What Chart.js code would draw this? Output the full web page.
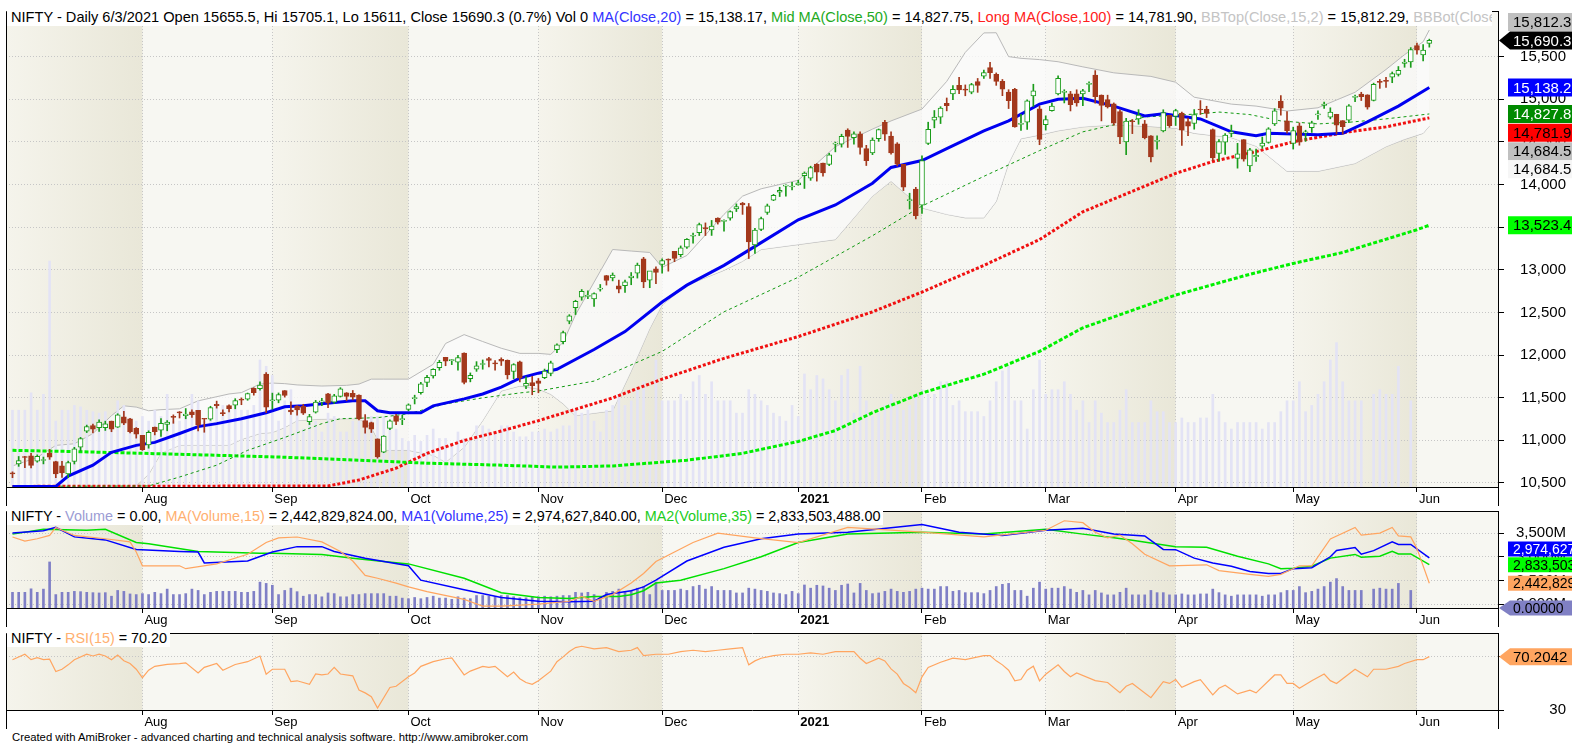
<!DOCTYPE html>
<html>
<head>
<meta charset="utf-8">
<title>NIFTY Daily</title>
<script src="https://cdn.jsdelivr.net/npm/chart.js@4.4.1/dist/chart.umd.min.js"></script>
<style>
  body { margin: 0; width: 1572px; height: 747px; background: #fff; position: relative; overflow: hidden;
         font-family: Arial, "Liberation Sans", sans-serif; }
  canvas { position: absolute; left: 0; }
  .title { position: absolute; left: 7px; background: #fff; font-size: 14.4px; line-height: 17px;
           white-space: nowrap; overflow: hidden; padding: 0 3px 0 4px; color: #000; }
  #footer { position: absolute; left: 12px; top: 731px; font-size: 11.3px; color: #000; }
</style>
</head>
<body>
<canvas id="price-chart" width="1572" height="506" style="top:0"></canvas>
<canvas id="volume-chart" width="1572" height="127" style="top:500px"></canvas>
<canvas id="rsi-chart" width="1572" height="107" style="top:622px"></canvas>
<div class="title" id="price-title" style="top:8px;max-width:1478px;font-size:14.6px;line-height:18px"></div>
<div class="title" id="volume-title" style="top:508px"></div>
<div class="title" id="rsi-title" style="top:630px"></div>
<div id="footer">Created with AmiBroker - advanced charting and technical analysis software. http://www.amibroker.com</div>
<script>
const FONT = 'Arial, "Liberation Sans", sans-serif';

// month starts (bar index) and their labels
const monthIdx = [21, 42, 64, 85, 105, 127, 147, 167, 188, 207, 227];
const monthLbl = ['Aug', 'Sep', 'Oct', 'Nov', 'Dec', '2021', 'Feb', 'Mar', 'Apr', 'May', 'Jun'];
const priceTicks = [10500, 11000, 11500, 12000, 12500, 13000, 13500, 14000, 14500, 15000, 15500];
const volTicks = [2000, 2500, 3000, 3500];
const rsiTicks = [30, 70];

// daily bars 3 Jul 2020 .. 3 Jun 2021
const open = [10614,10723,10802,10818,10755,10764,10851,10750,10701,10607,10752,10919,11109,11174,11150,11149,11225,11154,11276,11252,11140,
  11058,10946,11156,11120,11186,11271,11323,11289,11334,11353,11249,11248,11423,11326,11408,11412,11475,11484,11609,11606,11777,
  11464,11471,11583,11355,11400,11400,11220,11330,11450,11546,11449,11516,11558,11550,11531,11233,11207,11018,10860,11141,11288,11244,
  11364,11488,11558,11680,11755,11852,11973,11935,11917,12024,11722,11835,11890,11958,11910,11950,11937,11807,11922,11634,11678,
  11697,11734,11784,12062,12157,12399,12556,12680,12689,12659,12773,12932,12904,12812,12814,12906,12960,13130,12878,13012,
  13062,13122,13216,13177,13265,13393,13435,13494,13469,13607,13568,13606,13713,13783,13741,13292,13473,13672,13816,13910,13981,13971,
  13996,14104,14076,14240,14253,14235,14474,14473,14639,14550,14595,14422,14371,14538,14730,14569,14477,14237,13811,13946,
  13758,14482,14754,14789,14952,15064,15164,15119,15082,15207,15270,15371,15293,15210,15084,15117,14706,14730,15038,14888,
  14702,14865,15064,15081,15065,15064,15062,15174,15283,15049,14996,14946,14855,14500,14737,14768,14712,14570,14506,14628,14811,
  14798,14837,14737,14716,14875,14882,14644,14364,14497,14599,14306,14526,14219,14326,14449,14493,14710,14979,14747,
  14481,14688,14604,14668,14816,14928,14789,14823,14749,14756,15023,15060,15052,14987,15211,15211,15258,15291,15421,15437,
  15629,15521,15655.5];
const high = [10631,10811,10813,10848,10830,10804,10894,10755,10755,10756,10918,11035,11179,11190,11240,11225,11226,11312,11341,11257,11150,
  11058,11112,11156,11256,11232,11299,11338,11373,11359,11353,11256,11400,11460,11358,11418,11489,11498,11555,11617,11686,11794,
  11554,11556,11584,11452,11408,11423,11305,11469,11493,11552,11540,11618,11560,11585,11535,11302,11214,11018,11055,11240,11305,11295,
  11428,11530,11680,11764,11840,11939,11974,11948,11997,12025,11791,11923,11943,11975,11935,11968,11943,11899,11929,11744,11750,
  11726,11836,11929,12131,12280,12474,12643,12769,12752,12730,12828,12934,12963,12879,12879,12968,13079,13146,12943,13035,
  13129,13128,13216,13280,13366,13432,13548,13550,13579,13610,13587,13692,13773,13790,13778,13487,13619,13771,13885,13968,13997,14025,
  14050,14148,14215,14245,14253,14367,14498,14590,14654,14618,14617,14460,14547,14652,14754,14619,14491,14237,13898,13967,
  14337,14731,14868,14913,15015,15159,15257,15168,15187,15244,15341,15432,15309,15232,15112,15128,14822,14993,15176,14920,
  14806,14955,15274,15112,15092,15111,15116,15205,15336,15051,15048,14957,14875,14775,14763,14878,14752,14575,14572,14877,14813,
  14883,14849,14779,14879,14984,14918,14652,14528,14597,14697,14483,14527,14424,14415,14557,14667,14890,15044,14855,
  14673,14723,14637,14743,14864,14967,14900,14824,14749,14938,15049,15082,15053,15189,15232,15256,15320,15384,15469,15606,
  15660,15641,15705.1];
const low = [10562,10695,10681,10676,10744,10724,10777,10562,10564,10562,10723,10875,11091,11086,11104,11116,11101,11151,11185,11086,11026,
  10882,10908,11064,11046,11112,11200,11262,11253,11269,11112,11095,11235,11378,11289,11333,11370,11418,11470,11530,11589,11326,
  11366,11440,11507,11304,11295,11303,11185,11320,11406,11382,11433,11508,11465,11475,11240,11083,11092,10791,10855,11125,11185,11184,
  11347,11427,11541,11630,11730,11822,11875,11888,11822,11662,11686,11809,11834,11861,11822,11878,11720,11723,11685,11606,11535,
  11558,11723,11757,12028,12131,12367,12475,12643,12662,12570,12750,12821,12870,12730,12734,12825,12903,12790,12790,12836,
  12962,12984,13095,13152,13250,13311,13402,13402,13403,13536,13452,13582,13683,13650,13132,13192,13460,13650,13811,13859,13864,13937,
  13992,13954,14049,14040,14097,14221,14383,14439,14435,14472,14357,14223,14350,14506,14518,14357,14218,13929,13713,13597,
  13662,14469,14665,14715,14864,14995,15065,15041,15064,15081,15243,15243,15163,15042,14891,14672,14636,14646,14915,14467,
  14638,14860,15051,14957,14863,14919,14924,15089,14954,14746,14897,14696,14478,14350,14597,14707,14535,14264,14414,14617,14670,
  14692,14459,14573,14649,14821,14785,14283,14274,14353,14560,14192,14274,14152,14270,14424,14484,14692,14814,14601,
  14416,14461,14506,14611,14765,14892,14771,14592,14591,14724,14973,14985,14884,14980,15128,15140,15194,15272,15375,15374,
  15528,15451,15611];
const close = [10607,10763,10799,10706,10813,10768,10802,10607,10618,10740,10902,11022,11162,11132,11215,11194,11132,11300,11202,11102,11073,
  10892,11095,11102,11200,11214,11270,11322,11308,11300,11178,11247,11385,11408,11312,11372,11466,11472,11549,11559,11647,11388,
  11470,11536,11527,11333,11356,11318,11278,11450,11464,11440,11522,11605,11516,11505,11251,11153,11132,10806,11050,11228,11222,11248,
  11417,11503,11662,11738,11834,11914,11930,11935,11972,11680,11762,11873,11897,11938,11896,11930,11768,11889,11730,11670,11642,
  11669,11813,11909,12120,12264,12461,12631,12749,12691,12720,12780,12875,12938,12772,12860,12927,13056,12858,12987,12969,
  13109,13114,13134,13258,13356,13393,13529,13479,13514,13558,13568,13682,13741,13761,13328,13466,13602,13749,13873,13932,13982,13982,
  14019,14133,14199,14146,14137,14347,14485,14564,14565,14595,14434,14281,14521,14645,14590,14372,14239,13968,13818,13635,
  14281,14647,14790,14896,14924,15116,15110,15107,15173,15163,15314,15313,15209,15119,14982,14676,14708,14982,15098,14529,
  14762,14920,15246,15081,14938,14956,15099,15175,15031,14929,14911,14721,14558,14745,14736,14815,14549,14325,14507,14845,14691,
  14867,14638,14684,14819,14874,14835,14311,14505,14581,14617,14359,14297,14406,14341,14485,14653,14865,14895,14631,
  14634,14497,14618,14725,14824,14943,14851,14697,14678,14924,15030,15030,14906,15176,15197,15209,15301,15338,15436,15583,
  15575,15576,15690.3];
// volume in millions of shares
const volume = [2760,2760,2760,3175,2760,3140,6325,2500,2760,2760,2875,2840,2760,2725,2690,2725,2310,2985,2875,2575,2500,
  2610,2500,2760,2610,3140,2500,2500,2610,3140,2985,2500,2760,2875,2875,2875,2875,2760,2760,2875,3960,3810,
  3590,2500,2985,3250,2840,2310,2500,2500,2240,2690,2610,2240,2240,2500,2500,2610,2610,2610,2610,2310,2310,2085,
  2015,2160,2015,2160,2310,2085,2085,1940,2240,2085,2015,2388,2388,2310,2240,2388,2388,2240,2125,2125,2240,
  2240,2310,2240,2310,2388,2388,2760,2690,2760,2500,2240,2760,2875,3140,2875,2985,3250,3440,2500,3960,
  2985,2985,2985,3140,2985,3440,3590,3140,3440,2985,2985,2985,2690,2690,3250,3140,2985,2875,2690,2610,2500,2875,
  2610,3625,3250,3590,3510,3250,2985,3590,3740,2690,3810,2985,2610,2690,2875,3140,2875,2760,2875,3140,
  3250,3140,3140,3440,3440,2875,2985,2725,2725,2725,2610,2985,3440,3700,3810,2985,2985,2310,3250,3960,
  3140,3250,3250,3440,3140,2760,2985,2465,2985,2690,2465,2465,2760,3250,2465,2465,2465,2985,2725,2725,2465,
  2465,2575,2465,2465,2575,2575,3140,2725,2465,2310,2465,2465,2465,2465,2310,2465,2465,2725,2985,
  2985,3440,2725,2875,3140,3440,3960,4375,3440,2985,2985,2985,0,3140,3250,3140,3140,3810,0,2985,
  0,0,0];

// indicator lines: [bar index, value]
const ma20Pts = [[0,10250],[7,10440],[9,10581],[13,10709],[16,10860],[20,10941],[23,10976],[27,11080],[30,11161],[33,11196],
  [37,11254],[41,11324],[44,11393],[47,11405],[50,11428],[55,11463],[57,11463],[59,11347],[61,11324],[66,11324],[68,11405],
  [73,11486],[76,11544],[79,11625],[82,11730],[85,11788],[88,11834],[94,12066],[99,12275],[105,12623],[109,12820],[115,13052],
  [121,13319],[127,13586],[133,13760],[139,14015],[142,14200],[147,14282],[151,14421],[157,14630],[161,14746],[166,14943],
  [169,15000],[173,15012],[178,14920],[183,14804],[186,14830],[192,14769],[197,14618],[201,14572],[203,14600],[211,14583],
  [215,14600],[219,14734],[224,14920],[229,15138.17]];
const ma50Pts = [[0,9950],[22,10465],[27,10570],[33,10709],[38,10883],[44,11034],[50,11196],[53,11254],[59,11266],[64,11312],
  [70,11428],[76,11498],[82,11556],[85,11579],[94,11695],[105,12043],[115,12507],[127,12913],[139,13400],[147,13748],
  [157,14096],[166,14398],[173,14618],[178,14700],[183,14792],[192,14830],[195,14850],[200,14820],[205,14746],[211,14711],
  [216,14730],[222,14770],[229,14827.75]];
const ma100Pts = [[0,9400],[51,10465],[56,10535],[62,10674],[67,10848],[73,10999],[79,11110],[85,11231],[97,11498],[105,11718],
  [115,11962],[127,12217],[139,12507],[147,12739],[157,13052],[166,13354],[173,13680],[188,14131],[194,14270],[201,14386],
  [207,14502],[216,14618],[222,14676],[229,14781.9]];
const ma200Pts = [[0,10883],[9,10870],[21,10848],[33,10825],[44,10802],[56,10767],[67,10732],[79,10709],[88,10686],[97,10700],
  [109,10767],[118,10848],[127,10987],[133,11115],[139,11324],[147,11556],[157,11776],[166,12043],[173,12320],[188,12704],
  [200,12948],[207,13075],[215,13203],[227,13470],[229,13523.4]];
const bbIdx = [0,4,7,10,13,16,18,20,22,24,27,30,35,37,40,42,44,46,50,54,56,58,60,64,68,70,73,76,79,82,85,87,89,91,97,100,103,105,
  109,115,118,121,127,133,139,142,147,151,154,157,159,161,163,166,169,173,178,184,188,191,197,201,206,211,217,222,225,228,229];
const bbTop = [10700,10800,10941,10960,11080,11290,11405,11390,11347,11360,11370,11463,11544,11560,11660,11672,11665,11650,11637,
  11645,11660,11718,11718,11718,11892,12136,12240,12159,12080,12020,12020,12008,12150,12472,13238,13220,13203,13029,13168,13650,
  13864,13950,14050,14444,14650,14746,14885,15210,15550,15778,15780,15500,15480,15465,15440,15380,15310,15268,15200,15024,14943,
  14920,14862,14900,15082,15349,15523,15674,15812.29];
const bbBot = [10150,10200,10250,10300,10350,10400,10430,10470,10600,10850,10941,10941,10941,11010,11080,11092,11150,11231,11250,
  11254,11254,11150,10883,10883,10825,10744,10918,11231,11579,11637,11602,11540,11428,11289,11347,11811,12310,12588,12820,12994,
  13100,13238,13296,13354,13864,14038,13725,13650,13609,13609,13800,14247,14537,14580,14630,14676,14700,14680,14660,14600,14550,
  14450,14155,14155,14247,14444,14530,14600,14684.5];

// volume moving averages (millions)
const vma15Pts = [[0,3417],[2,3330],[4,3380],[6,3450],[7,3620],[10,3450],[15,3380],[19,3315],[20,3100],[21,2810],[27,2810],
  [28,2749],[33,2850],[38,3053],[41,3300],[43,3400],[46,3417],[50,3315],[53,3113],[55,2911],[57,2607],[59,2547],[62,2445],
  [64,2364],[67,2263],[73,2101],[76,1960],[79,1960],[85,2000],[90,2061],[92,2162],[94,2061],[97,2202],[100,2445],[102,2648],
  [104,2900],[110,3300],[114,3500],[120,3400],[127,3300],[135,3620],[147,3520],[157,3420],[167,3560],[170,3760],[173,3720],
  [175,3518],[177,3400],[179,3457],[181,3275],[183,3053],[187,2810],[193,2830],[195,2708],[200,2628],[203,2587],[205,2628],
  [208,2810],[210,2810],[213,3377],[217,3620],[218,3457],[221,3500],[223,3620],[224,3440],[226,3420],[227,3174],[229,2442.83]];
const vma25Pts = [[0,3500],[5,3550],[7,3620],[10,3420],[15,3356],[20,3154],[27,3113],[30,3100],[31,2870],[38,2911],[42,3100],
  [46,3214],[50,3214],[52,3113],[57,2970],[64,2810],[66,2506],[73,2304],[79,2142],[85,2061],[90,2050],[94,2061],[96,2202],
  [100,2283],[102,2364],[104,2506],[109,2911],[115,3200],[121,3380],[127,3480],[135,3520],[147,3680],[153,3520],[160,3450],
  [167,3560],[173,3600],[178,3480],[183,3440],[186,3154],[188,3150],[191,2972],[194,2870],[197,2800],[200,2688],[203,2648],
  [205,2648],[207,2749],[210,2770],[213,3000],[214,3134],[217,3194],[218,3053],[220,3130],[223,3316],[224,3260],[226,3260],
  [229,2974.63]];
const vma35Pts = [[0,3478],[5,3580],[12,3560],[15,3580],[20,3300],[22,3275],[30,3113],[40,3073],[42,3073],[50,3050],[55,2970],
  [60,2900],[64,2850],[73,2547],[79,2243],[85,2142],[90,2120],[94,2162],[98,2162],[100,2200],[102,2283],[104,2445],[108,2506],
  [115,2750],[121,3000],[127,3300],[135,3480],[147,3520],[157,3480],[167,3580],[173,3478],[178,3400],[181,3350],[188,3214],
  [193,3200],[198,3012],[203,2850],[205,2749],[207,2760],[210,2800],[213,2972],[217,3050],[218,2990],[221,3012],[223,3113],
  [224,3060],[226,3060],[229,2833.5]];

const rsiPts = [[0,67.9],[2,72],[3,67.9],[4,69.5],[5,67.9],[6,68.3],[7,59],[8,60.7],[9,64],[10,67.9],[12,72],[13,70.7],[14,72.1],
  [15,70.7],[16,67.9],[17,71.4],[18,67.1],[19,65],[20,60.7],[21,54.3],[22,60],[23,62.9],[25,64.3],[27,65],[28,65.5],[30,57.9],
  [31,62.1],[33,65],[34,60],[36,64.3],[38,66.4],[40,70.7],[41,57],[42,60.7],[44,60.7],[45,51.4],[46,52],[48,49.3],[49,57.1],
  [50,56.4],[51,57.1],[52,62.1],[53,57.1],[55,55.7],[56,45],[57,42.9],[58,40],[59,31.4],[61,47],[62,47.9],[64,55],[65,57.9],
  [66,62.9],[68,66.4],[70,68.6],[71,69.3],[73,56.4],[74,59.3],[76,62.9],[77,62.1],[78,62.9],[80,55],[81,58.6],[82,53.6],
  [83,50.7],[84,49.3],[85,52.1],[87,59.3],[88,66.4],[89,70],[90,74],[91,77],[92,78],[94,76],[96,77],[98,74],[100,75],[101,77],
  [102,71],[104,72],[106,72],[108,74],[110,75],[112,74],[114,75],[116,76],[118,77],[119,64],[120,67],[121,69],[123,71],
  [125,72],[127,72],[129,73],[131,72],[133,74],[135,74],[136,74],[137,69],[138,65],[140,69],[141,67],[142,61],[143,57],
  [144,50],[145,47],[146,43],[147,55],[148,62],[150,66],[152,69],[154,68],[157,71],[158,71],[159,67],[160,64],[161,60],
  [162,52],[163,53],[164,60],[165,63],[166,52],[167,57],[169,64],[170,59],[171,55],[172,57.9],[175,52.1],[177,50.7],[179,43],
  [180,47.9],[181,50],[184,39.3],[186,51.4],[187,50],[188,52.9],[189,47.1],[191,51.4],[192,52.9],[194,41.4],[195,46.4],
  [196,48.6],[198,42.1],[200,45],[201,42.9],[204,56.4],[205,56.4],[206,50],[207,50],[208,46.4],[210,52.1],[212,57.1],
  [213,52.1],[214,50],[217,60.7],[219,55],[220,60.7],[222,60.7],[224,62.9],[225,65],[227,67.9],[228,67.9],[229,70.2042]];

const volMA15Full = 2442829824, volMA25Full = 2974627840, volMA35Full = 2833503488;

const UP = '#1a9c1a', DOWN = '#a3381c';
const GRID = '#c6c6c6';
const last = close.length - 1;

function pts(arr, lo) {
  return arr.map(([x, y]) => ({ x: x, y: lo === undefined ? y : Math.max(y, lo) }));
}
function fmt(v, d) {
  return v.toLocaleString('en-US', { minimumFractionDigits: d, maximumFractionDigits: d });
}

function xAxis() {
  return {
    type: 'linear', min: -1.05, max: 240.1, offset: false,
    afterBuildTicks: s => { s.ticks = monthIdx.map(v => ({ value: v })); },
    afterFit: s => { s.height = 19; },
    ticks: {
      autoSkip: false, maxRotation: 0, align: 'start', labelOffset: 2, padding: 0, color: '#000',
      font: c => ({ family: FONT, size: 13, weight: monthLbl[c.index] === '2021' ? 'bold' : 'normal' }),
      callback: (v, i) => monthLbl[i]
    },
    grid: { color: GRID, tickColor: '#000', tickLength: 5, offset: false, borderDash: [1, 2] },
    border: { color: '#000', dash: [1, 2] }
  };
}
function yAxis(tickList, fmtTick, extra) {
  return Object.assign({
    position: 'right',
    afterFit: s => { s.width = 68; },
    afterBuildTicks: s => { s.ticks = tickList.map(v => ({ value: v })); },
    ticks: { crossAlign: 'far', color: '#000', padding: 2, font: { family: FONT, size: 15 }, callback: fmtTick },
    grid: { color: GRID, tickColor: '#000', tickLength: 6, borderDash: [1, 2] },
    border: { color: '#000', dash: [1, 2] }
  }, extra);
}
function lineSet(data, color, width, dash, order, extra) {
  return Object.assign({
    type: 'line', data: data, borderColor: color, borderWidth: width, borderDash: dash || [],
    pointRadius: 0, fill: false, tension: 0, order: order, yAxisID: 'y'
  }, extra || {});
}

// month shading and panel frame
const panelBackground = {
  id: 'panelBackground',
  beforeDraw(chart) {
    const { ctx, chartArea: a, scales: { x } } = chart;
    ctx.save();
    ctx.fillStyle = '#f7f7f2';
    ctx.fillRect(a.left, a.top, a.right - a.left, a.bottom - a.top);
    const edges = [x.min].concat(monthIdx, [x.max]);
    for (let j = 0; j < edges.length - 1; j += 2) {
      const x0 = Math.max(a.left, x.getPixelForValue(edges[j]));
      const x1 = Math.min(a.right, x.getPixelForValue(edges[j + 1]));
      const g = ctx.createLinearGradient(x0, 0, x1, 0);
      g.addColorStop(0, '#f5f4ec');
      g.addColorStop(1, '#e9e7d8');
      ctx.fillStyle = g;
      ctx.fillRect(x0, a.top, x1 - x0, a.bottom - a.top);
    }
    ctx.restore();
  },
  afterDraw(chart) {
    const { ctx, chartArea: a } = chart;
    ctx.save();
    ctx.strokeStyle = '#000';
    ctx.lineWidth = 1;
    ctx.beginPath();
    ctx.moveTo(a.left + 0.5, chart.height);
    ctx.lineTo(a.left + 0.5, a.top + 0.5);
    ctx.lineTo(a.right + 0.5, a.top + 0.5);
    ctx.lineTo(a.right + 0.5, chart.height);
    ctx.stroke();
    ctx.restore();
  }
};

// last-value tags on the right axis
const valueBoxes = {
  id: 'valueBoxes',
  afterDraw(chart, args, opts) {
    if (!opts.items) return;
    const { ctx, chartArea: a } = chart;
    const h = opts.height;
    const placed = [];
    opts.items.forEach(item => {
      let y = chart.scales[item.axis].getPixelForValue(item.value);
      y = Math.min(Math.max(y, a.top), a.bottom);
      const free = yy => placed.every(p => Math.abs(p.y - yy) >= h);
      if (!free(y)) {
        for (let d = 1; d < 600; d++) {
          if (free(y - d)) { y = y - d; break; }
          if (free(y + d)) { y = y + d; break; }
        }
      }
      placed.push(Object.assign({}, item, { y: y }));
    });
    ctx.save();
    ctx.font = opts.font;
    ctx.textBaseline = 'middle';
    placed.forEach(b => {
      const left = a.right + 10, right = chart.width;
      ctx.fillStyle = b.bg;
      ctx.beginPath();
      if (b.arrow) {
        ctx.moveTo(a.right + 1, b.y);
        ctx.lineTo(left + 2, b.y - h / 2);
        ctx.lineTo(right, b.y - h / 2);
        ctx.lineTo(right, b.y + h / 2);
        ctx.lineTo(left + 2, b.y + h / 2);
      } else {
        ctx.rect(left, b.y - h / 2, right - left, h);
      }
      ctx.closePath();
      ctx.fill();
      ctx.fillStyle = b.fg;
      ctx.fillText(b.text, left + 5, b.y + 1);
    });
    ctx.restore();
  }
};

const idx = close.map((c, i) => i);
const isUp = idx.map(i => close[i] >= open[i]);

const base = {
  responsive: false, animation: false, devicePixelRatio: 1,
  layout: { padding: { left: 6, right: 6, top: 7, bottom: 0 } },
  events: []
};

// ---- price panel ----
new Chart(document.getElementById('price-chart'), {
  type: 'bar',
  data: {
    datasets: [
      lineSet(pts(bbIdx.map((v, i) => [v, bbTop[i]])), '#b9b9b9', 1, [], 9,
        { fill: '+1', backgroundColor: 'rgba(250,250,250,0.8)' }),
      lineSet(pts(bbIdx.map((v, i) => [v, bbBot[i]]), 10455), '#b9b9b9', 1, [], 9),
      { type: 'bar', yAxisID: 'yv', data: idx.map(i => ({ x: i, y: volume[i] })), backgroundColor: '#e3e3f5',
        barThickness: 2, grouped: false, order: 8 },
      lineSet(pts(ma200Pts, 10460), '#00f000', 3, [4, 2], 6),
      lineSet(pts(ma100Pts, 10460), '#f01010', 3, [3, 2], 6),
      lineSet(pts(ma50Pts, 10460), '#129a12', 1, [3, 3], 5),
      lineSet(pts(ma20Pts, 10460), '#0000f0', 3, [], 4),
      { type: 'bar', yAxisID: 'y', data: idx.map(i => ({ x: i, y: [low[i], high[i]] })),
        backgroundColor: idx.map(i => isUp[i] ? UP : DOWN), barThickness: 1, grouped: false, order: 2 },
      { type: 'bar', yAxisID: 'y',
        data: idx.map(i => ({ x: i, y: [Math.min(open[i], close[i]), Math.max(open[i], close[i])] })),
        backgroundColor: idx.map(i => isUp[i] ? '#ffffff' : DOWN),
        borderColor: idx.map(i => isUp[i] ? UP : DOWN), borderWidth: 1, borderSkipped: false,
        barThickness: 5, minBarLength: 1, grouped: false, order: 1 }
    ]
  },
  options: Object.assign({}, base, {
    scales: {
      x: xAxis(),
      y: yAxis(priceTicks, v => fmt(v, 0), { min: 10453, max: 16035 }),
      yv: { display: false, min: 925, max: 12300 }
    },
    plugins: {
      legend: { display: false }, tooltip: { enabled: false },
      valueBoxes: { height: 18, font: '15px ' + FONT, items: [
        { axis: 'y', value: close[last], text: fmt(close[last], 1), bg: '#000', fg: '#fff', arrow: true },
        { axis: 'y', value: ma20Pts[ma20Pts.length - 1][1], text: fmt(ma20Pts[ma20Pts.length - 1][1], 1), bg: '#0000ff', fg: '#fff' },
        { axis: 'y', value: ma50Pts[ma50Pts.length - 1][1], text: fmt(ma50Pts[ma50Pts.length - 1][1], 1), bg: '#008a00', fg: '#fff' },
        { axis: 'y', value: ma100Pts[ma100Pts.length - 1][1], text: fmt(ma100Pts[ma100Pts.length - 1][1], 1), bg: '#ff0000', fg: '#000' },
        { axis: 'y', value: ma200Pts[ma200Pts.length - 1][1], text: fmt(ma200Pts[ma200Pts.length - 1][1], 1), bg: '#00ff00', fg: '#000' },
        { axis: 'y', value: bbTop[bbTop.length - 1], text: fmt(bbTop[bbTop.length - 1], 1), bg: '#c0c0c0', fg: '#000' },
        { axis: 'y', value: bbBot[bbBot.length - 1], text: fmt(bbBot[bbBot.length - 1], 1), bg: '#c0c0c0', fg: '#000' },
        { axis: 'y', value: bbBot[bbBot.length - 1], text: fmt(bbBot[bbBot.length - 1], 1), bg: '#f6f6f6', fg: '#000' }
      ] }
    }
  }),
  plugins: [panelBackground, valueBoxes]
});

// ---- volume panel ----
new Chart(document.getElementById('volume-chart'), {
  type: 'bar',
  data: {
    datasets: [
      { type: 'bar', yAxisID: 'yv', data: idx.map(i => ({ x: i, y: volume[i] })), backgroundColor: '#7f7fc6',
        barThickness: 2, grouped: false, order: 9 },
      lineSet(pts(vma35Pts), '#00e000', 1.5, [], 3),
      lineSet(pts(vma25Pts), '#0000ff', 1.5, [], 2),
      lineSet(pts(vma15Pts), '#ffa560', 1.2, [], 1)
    ]
  },
  options: Object.assign({}, base, {
    scales: {
      x: xAxis(),
      y: yAxis(volTicks, v => fmt(v, 0) + 'M', { min: 1919, max: 3966 }),
      yv: { display: false, min: 925, max: 12300 }
    },
    plugins: {
      legend: { display: false }, tooltip: { enabled: false },
      valueBoxes: { height: 15, font: '14px ' + FONT, items: [
        { axis: 'yv', value: volume[last], text: fmt(volume[last], 5), bg: '#8080c4', fg: '#000', arrow: true },
        { axis: 'y', value: volMA15Full / 1e6, text: fmt(volMA15Full, 0), bg: '#ffa560', fg: '#000' },
        { axis: 'y', value: volMA35Full / 1e6, text: fmt(volMA35Full, 0), bg: '#00ff00', fg: '#000' },
        { axis: 'y', value: volMA25Full / 1e6, text: fmt(volMA25Full, 0), bg: '#0000ff', fg: '#fff' }
      ] }
    }
  }),
  plugins: [panelBackground, valueBoxes]
});

// ---- RSI panel ----
const rsiLast = rsiPts[rsiPts.length - 1][1];
new Chart(document.getElementById('rsi-chart'), {
  type: 'line',
  data: { datasets: [lineSet(pts(rsiPts), '#ffa560', 1.2, [], 1)] },
  options: Object.assign({}, base, {
    scales: {
      x: xAxis(),
      y: yAxis(rsiTicks, v => String(v), { min: 30, max: 88 })
    },
    plugins: {
      legend: { display: false }, tooltip: { enabled: false },
      valueBoxes: { height: 17, font: '15px ' + FONT, items: [
        { axis: 'y', value: rsiLast, text: fmt(rsiLast, 4), bg: '#ffa560', fg: '#000', arrow: true }
      ] }
    }
  }),
  plugins: [panelBackground, valueBoxes]
});

// ---- titles ----
const chg = (close[last] - close[last - 1]) / close[last - 1] * 100;
const c = (t, col) => '<span style="color:' + col + '">' + t + '</span>';
document.getElementById('price-title').innerHTML =
  'NIFTY - Daily 6/3/2021 Open ' + open[last] + ', Hi ' + high[last] + ', Lo ' + low[last] + ', Close ' + close[last] +
  ' (' + chg.toFixed(1) + '%) Vol ' + volume[last] + ' ' +
  c('MA(Close,20)', '#3333ff') + ' = ' + fmt(ma20Pts[ma20Pts.length - 1][1], 2) + ', ' +
  c('Mid MA(Close,50)', '#22aa22') + ' = ' + fmt(ma50Pts[ma50Pts.length - 1][1], 2) + ', ' +
  c('Long MA(Close,100)', '#ff2020') + ' = ' + fmt(ma100Pts[ma100Pts.length - 1][1], 2) + ', ' +
  c('BBTop(Close,15,2)', '#c4c4c4') + ' = ' + fmt(bbTop[bbTop.length - 1], 2) + ', ' +
  c('BBBot(Close,15,2)', '#c4c4c4') + ' = ' + fmt(bbBot[bbBot.length - 1], 2);
document.getElementById('volume-title').innerHTML =
  'NIFTY - ' + c('Volume', '#9c9cd4') + ' = ' + fmt(volume[last], 2) + ', ' +
  c('MA(Volume,15)', '#ffb070') + ' = ' + fmt(volMA15Full, 2) + ', ' +
  c('MA1(Volume,25)', '#3333ff') + ' = ' + fmt(volMA25Full, 2) + ', ' +
  c('MA2(Volume,35)', '#22cc22') + ' = ' + fmt(volMA35Full, 2);
document.getElementById('rsi-title').innerHTML =
  'NIFTY - ' + c('RSI(15)', '#ffb070') + ' = ' + fmt(rsiLast, 2);
</script>
</body>
</html>
